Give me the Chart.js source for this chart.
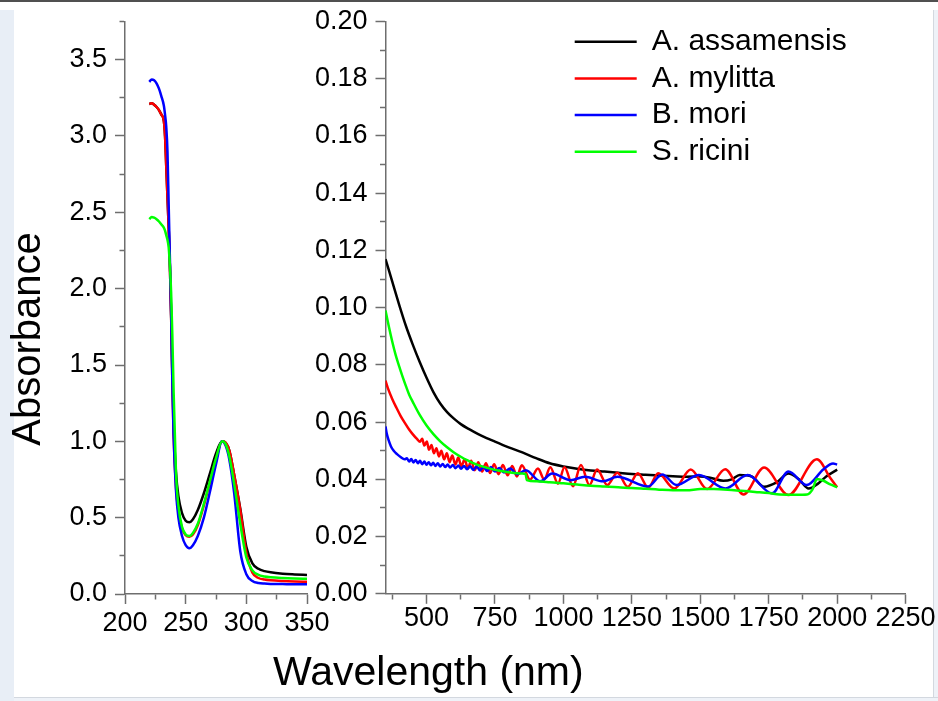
<!DOCTYPE html>
<html>
<head>
<meta charset="utf-8">
<script src="https://cdn.jsdelivr.net/npm/chart.js@4.4.1/dist/chart.umd.min.js"></script>
<style>
html,body{margin:0;padding:0;background:#fff;}
body{width:938px;height:701px;position:relative;overflow:hidden;}
canvas{position:absolute;left:0;top:0;}
.frame-top{position:absolute;left:0;top:0;width:938px;height:2px;background:#505050;}
.frame-left{position:absolute;left:0;top:10px;width:14px;height:691px;background:#e8eef6;}
.frame-right{position:absolute;left:933px;top:10px;width:5px;height:691px;background:#eef2f8;border-left:1px solid #d3d8df;box-sizing:border-box;}
.frame-bottom{position:absolute;left:14px;top:697px;width:924px;height:4px;background:#eef2f8;border-top:1px solid #d3d8df;box-sizing:border-box;}
</style>
</head>
<body>
<div class="frame-top"></div>
<div class="frame-left"></div>
<div class="frame-right"></div>
<div class="frame-bottom"></div>
<canvas id="uv" width="938" height="701"></canvas>
<canvas id="nir" width="938" height="701"></canvas>
<script>
// ---------------- DATA ----------------
const seriesLabels = ['A. assamensis', 'A. mylitta', 'B. mori', 'S. ricini'];

// UV panel (200-350 nm)
const uvWavelength = [220,222,224,226,228,230,232,233,234,235,236,237,238,239,240,242,244,247,250,253,256,260,265,270,275,280,283,286,290,295,300,305,310,315,320,330,340,350];
const uvAssamensis = [3.21,3.215,3.205,3.19,3.17,3.14,3.1,3.0,2.8,2.6,2.4,2.15,1.83,1.45,1.12,0.8,0.64,0.53,0.48,0.47,0.49,0.55,0.66,0.79,0.92,1.0,0.99,0.94,0.78,0.56,0.31,0.2,0.165,0.15,0.142,0.133,0.128,0.124];
const uvMylitta    = [3.21,3.215,3.205,3.19,3.17,3.14,3.1,3.0,2.8,2.6,2.4,2.15,1.82,1.4,1.05,0.7,0.54,0.43,0.385,0.375,0.39,0.45,0.58,0.73,0.88,1.0,0.99,0.94,0.78,0.55,0.27,0.14,0.105,0.095,0.09,0.085,0.082,0.08];
const uvMori       = [3.355,3.37,3.365,3.345,3.31,3.26,3.2,3.14,3.06,2.9,2.55,2.2,1.85,1.4,1.05,0.68,0.5,0.38,0.32,0.30,0.32,0.38,0.50,0.67,0.85,1.0,0.97,0.88,0.66,0.28,0.13,0.085,0.072,0.068,0.066,0.065,0.064,0.064];
const uvRicini     = [2.455,2.47,2.465,2.455,2.44,2.42,2.4,2.38,2.35,2.32,2.27,2.15,1.98,1.7,1.35,0.8,0.58,0.44,0.39,0.38,0.40,0.46,0.59,0.74,0.89,1.0,0.98,0.9,0.72,0.46,0.24,0.155,0.125,0.115,0.11,0.105,0.102,0.10];

// Vis-NIR panel (350-2250 nm)
const nirAssamensisNm  = [350,375,400,425,450,475,500,525,550,575,600,625,650,675,700,750,800,850,900,950,1000,1050,1100,1150,1200,1250,1300,1350,1400,1450,1500,1540,1584,1615,1644,1688,1733,1780,1822,1860,1896,1930,1960,2000];
const nirAssamensisAbs = [0.117,0.109,0.101,0.0935,0.087,0.081,0.0755,0.0705,0.0665,0.0635,0.0612,0.0593,0.0578,0.0565,0.0553,0.0532,0.0512,0.0494,0.0474,0.0456,0.0445,0.0437,0.0431,0.0427,0.0423,0.0419,0.0416,0.0413,0.0411,0.0409,0.041,0.0405,0.0395,0.040,0.0415,0.041,0.0374,0.039,0.042,0.040,0.0368,0.0385,0.041,0.0434];

const nirMylittaNm  = [350,360,375,390,405,420,435,450,465,476,
  484,492,501,509,518,527,536,545,554,564,
  574,584,594,605,616,627,639,651,663,676,
  689,703,717,732,747,763,779,796,813,830,
  848,878,907,930,952,980,1004,1035,1064,1095,
  1123,1160,1197,1235,1272,1310,1346,1405,1465,1525,
  1591,1658,1733,1822,1926,1975,2000];
const nirMylittaAbs = [0.0745,0.0715,0.068,0.065,0.0622,0.0598,0.0576,0.0557,0.0541,0.0531,
  0.0542,0.0518,0.0532,0.0503,0.0520,0.0491,0.0509,0.0480,0.0500,0.0470,
  0.0491,0.0460,0.0483,0.0452,0.0476,0.0445,0.0470,0.0438,0.0465,0.0432,
  0.0460,0.0427,0.0456,0.0422,0.0453,0.0418,0.0450,0.0414,0.0447,0.0410,
  0.0449,0.0399,0.0438,0.0399,0.0442,0.0385,0.0442,0.0376,0.0450,0.0380,
  0.0434,0.0380,0.0423,0.0374,0.0421,0.0371,0.0421,0.0368,0.0434,0.0366,
  0.0435,0.0347,0.0441,0.0345,0.0470,0.0405,0.0372];

const nirMoriNm  = [350,355,362,370,380,392,405,420,
  428,436,444,452,460,468,476,484,492,500,
  508,516,524,532,541,550,559,568,577,586,
  596,606,616,626,637,648,659,671,683,695,
  708,721,735,750,766,783,
  805,830,863,915,959,1026,1078,1145,1197,1309,1361,1413,1495,1592,1673,1762,1822,1889,1950,1985,2000];
const nirMoriAbs = [0.0585,0.0558,0.0535,0.0515,0.0500,0.0488,0.0478,0.0470,
  0.0474,0.0462,0.0471,0.0459,0.0468,0.0456,0.0465,0.0453,0.0462,0.0451,
  0.0460,0.0449,0.0458,0.0447,0.0456,0.0445,0.0454,0.0443,0.0452,0.0441,
  0.0450,0.0439,0.0448,0.0437,0.0447,0.0435,0.0446,0.0433,0.0445,0.0431,
  0.0444,0.0429,0.0443,0.0427,0.0440,0.0424,
  0.0438,0.0418,0.0432,0.0393,0.0420,0.0397,0.0409,0.0393,0.0409,0.0375,0.0417,0.0380,0.0415,0.0368,0.0415,0.0351,0.0427,0.0380,0.0435,0.0455,0.0452];

const nirRiciniNm  = [350,362,375,387,400,412,425,437,450,475,
  500,525,550,575,600,625,650,675,700,750,
  800,850,862,866,900,950,1000,1050,1100,1150,
  1200,1250,1300,1350,1400,1450,1500,1550,1600,1650,
  1700,1750,1790,1850,1890,1910,1926,1950,1975,2000];
const nirRiciniAbs = [0.099,0.0935,0.088,0.0835,0.0795,0.076,0.0725,0.0695,0.067,0.0625,
  0.0588,0.0558,0.0533,0.0512,0.0494,0.0479,0.0466,0.0455,0.0446,0.0433,
  0.0425,0.042,0.0418,0.0397,0.0393,0.039,0.0386,0.0382,0.0378,0.0375,
  0.0372,0.037,0.0367,0.0364,0.0362,0.0362,0.0366,0.0366,0.0364,0.036,
  0.0356,0.0352,0.0347,0.0346,0.0347,0.0365,0.0401,0.0395,0.0382,0.0372];

// Tick positions
const uvXTicks = [200,225,250,275,300,325,350];
const uvYTicks = [0,0.25,0.5,0.75,1,1.25,1.5,1.75,2,2.25,2.5,2.75,3,3.25,3.5,3.75];
const nirXTicks = [375,500,625,750,875,1000,1125,1250,1375,1500,1625,1750,1875,2000,2125,2250];
const nirYTicks = [0,0.01,0.02,0.03,0.04,0.05,0.06,0.07,0.08,0.09,0.1,0.11,0.12,0.13,0.14,0.15,0.16,0.17,0.18,0.19,0.2];

// ---------------- STYLE ----------------
const seriesColors = ['#000000', '#ff0000', '#0000ff', '#00ff00'];
const AXIS = '#6e6e6e';
Chart.defaults.font.family = "'Liberation Sans', Arial, Helvetica, sans-serif";
Chart.defaults.color = '#000';
const tickFont = { size: 27, lineHeight: 1 };

const near = (a, b) => Math.abs(a - b) < 1e-6;
const majUvX = v => near(v % 50, 0);
const majUvY = v => near(v * 2, Math.round(v * 2));
const majNirX = v => near(v % 250, 0);
const majNirY = v => Math.round(v * 100) % 2 === 0;

function gridFor(isMajor, vertical) {
  return {
    drawOnChartArea: false,
    drawTicks: true,
    tickLength: 10,
    tickColor: AXIS,
    tickWidth: 1.5,
    tickBorderDash: (ctx) => (!ctx.tick || isMajor(ctx.tick.value)) ? [] : (vertical ? [0, 4.5, 6, 100] : [5, 100])
  };
}
const border = { display: true, color: AXIS, width: 1.5 };

function makeDatasets(xArrays, yArrays) {
  return seriesLabels.map((label, i) => ({
    label,
    data: xArrays[i].map((x, j) => ({ x, y: yArrays[i][j] })),
    borderColor: seriesColors[i],
    backgroundColor: seriesColors[i],
    borderWidth: 2.5,
    pointRadius: 0,
    fill: false,
    cubicInterpolationMode: 'monotone',
    order: 4 - i
  }));
}

// ---------------- UV CHART ----------------
new Chart(document.getElementById('uv'), {
  type: 'line',
  data: {
    datasets: makeDatasets(
      [uvWavelength, uvWavelength, uvWavelength, uvWavelength],
      [uvAssamensis, uvMylitta, uvMori, uvRicini])
  },
  options: {
    responsive: false,
    animation: false,
    devicePixelRatio: 1,
    events: [],
    layout: { padding: { left: 0, top: 20, right: 631, bottom: 43 } },
    plugins: {
      legend: { display: false },
      tooltip: { enabled: false },
      title: {
        display: true, position: 'left', text: 'Absorbance', color: '#000',
        font: { size: 40, weight: 'normal' }, padding: { top: 5, bottom: 5 }
      }
    },
    scales: {
      x: {
        type: 'linear', min: 200, max: 350,
        afterBuildTicks: s => { s.ticks = uvXTicks.map(v => ({ value: v })); },
        afterFit: s => { s.height = 64; },
        ticks: { callback: v => majUvX(v) ? String(v) : '', font: tickFont, color: '#000', padding: 6, maxRotation: 0, autoSkip: false },
        grid: gridFor(majUvX, false),
        border
      },
      y: {
        type: 'linear', min: 0, max: 3.75,
        afterBuildTicks: s => { s.ticks = uvYTicks.map(v => ({ value: v })); },
        afterFit: s => { s.width = 67; },
        ticks: { callback: v => majUvY(v) ? v.toFixed(1) : '', font: tickFont, color: '#000', padding: 8, autoSkip: false },
        grid: gridFor(majUvY, true),
        border
      }
    }
  }
});

// ---------------- NIR CHART ----------------
const LEGEND_BOX = { left: 568, top: 20, height: 200 };
const legendPlacer = {
  id: 'legendPlacer',
  afterLayout(chart) {
    const lg = chart.legend;
    if (!lg) return;
    const w = lg.width;
    lg.left = LEGEND_BOX.left;
    lg.top = LEGEND_BOX.top;
    lg.right = LEGEND_BOX.left + w;
    lg.height = LEGEND_BOX.height;
    lg.bottom = LEGEND_BOX.top + LEGEND_BOX.height;
  }
};

new Chart(document.getElementById('nir'), {
  type: 'line',
  data: {
    datasets: makeDatasets(
      [nirAssamensisNm, nirMylittaNm, nirMoriNm, nirRiciniNm],
      [nirAssamensisAbs, nirMylittaAbs, nirMoriAbs, nirRiciniAbs])
  },
  plugins: [legendPlacer],
  options: {
    responsive: false,
    animation: false,
    devicePixelRatio: 1,
    events: [],
    layout: { padding: { left: 273, top: 20, right: 32.4, bottom: 3 } },
    plugins: {
      tooltip: { enabled: false },
      legend: {
        display: true, position: 'chartArea', align: 'start',
        labels: {
          usePointStyle: true, pointStyle: 'line', pointStyleWidth: 62,
          padding: 6.7, color: '#000', font: { size: 30 },
          sort: (a, b) => a.datasetIndex - b.datasetIndex
        }
      },
      title: {
        display: true, position: 'bottom', align: 'start', text: 'Wavelength (nm)', color: '#000',
        font: { size: 41, weight: 'normal' }, padding: { top: 0, bottom: 0 }
      }
    },
    scales: {
      x: {
        type: 'linear', min: 350, max: 2250,
        afterBuildTicks: s => { s.ticks = nirXTicks.map(v => ({ value: v })); },
        afterFit: s => { s.height = 55; },
        ticks: { callback: v => majNirX(v) ? String(v) : '', font: tickFont, color: '#000', padding: 1, maxRotation: 0, autoSkip: false },
        grid: gridFor(majNirX, false),
        border
      },
      y: {
        type: 'linear', min: 0, max: 0.2,
        afterBuildTicks: s => { s.ticks = nirYTicks.map(v => ({ value: v })); },
        afterFit: s => { s.width = 112.5; },
        ticks: { callback: v => majNirY(v) ? v.toFixed(2) : '', font: tickFont, color: '#000', padding: 8, autoSkip: false },
        grid: gridFor(majNirY, true),
        border
      }
    }
  }
});
</script>
</body>
</html>
